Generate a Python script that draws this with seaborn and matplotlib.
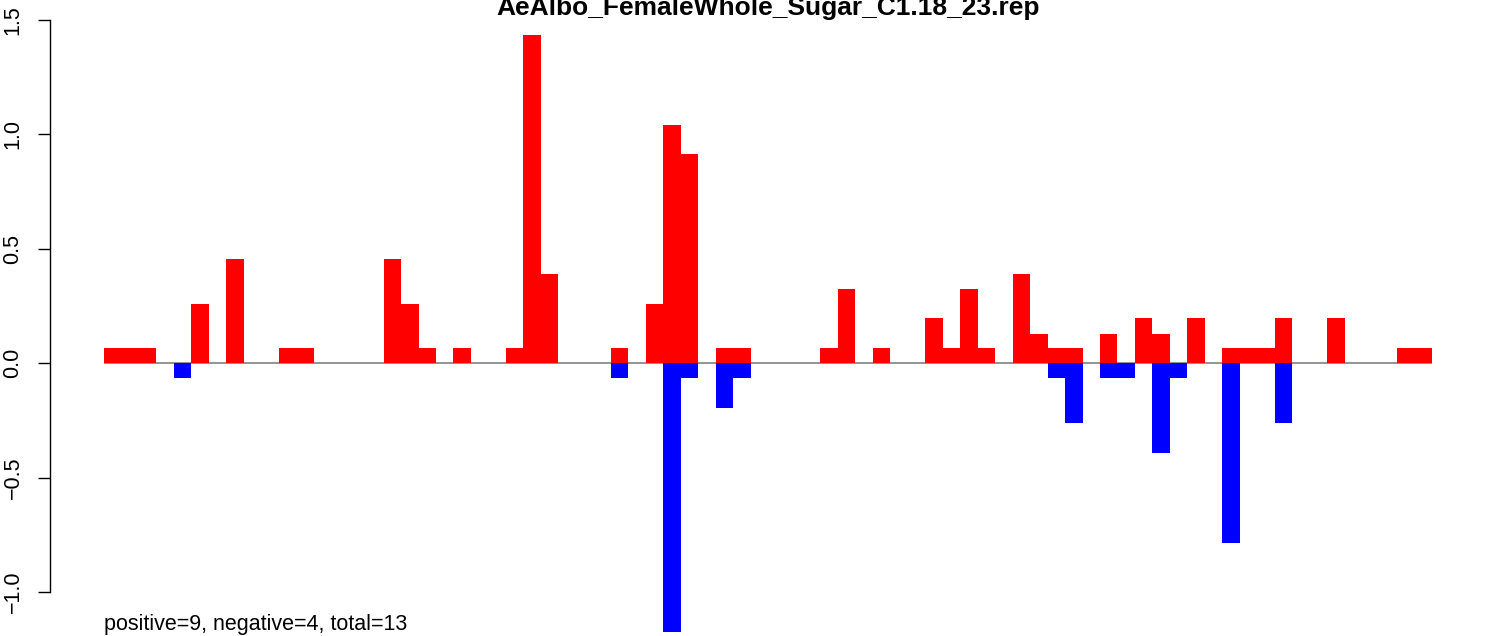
import numpy as np
import pandas as pd
import matplotlib
matplotlib.use("Agg")
import matplotlib.pyplot as plt
import seaborn as sns

# bar heights (76 positions, units of ~0.0652)
positive = [0.065, 0.065, 0.065, 0, 0, 0.261, 0, 0.457, 0, 0,
            0.065, 0.065, 0, 0, 0, 0, 0.457, 0.261, 0.065, 0,
            0.065, 0, 0, 0.065, 1.435, 0.391, 0, 0, 0, 0.065,
            0, 0.261, 1.043, 0.913, 0, 0.065, 0.065, 0, 0, 0,
            0, 0.065, 0.326, 0, 0.065, 0, 0, 0.196, 0.065, 0.326,
            0.065, 0, 0.391, 0.130, 0.065, 0.065, 0, 0.130, 0, 0.196,
            0.130, 0, 0.196, 0, 0.065, 0.065, 0.065, 0.196, 0, 0,
            0.196, 0, 0, 0, 0.065, 0.065]
negative = [0, 0, 0, 0, -0.065, 0, 0, 0, 0, 0,
            0, 0, 0, 0, 0, 0, 0, 0, 0, 0,
            0, 0, 0, 0, 0, 0, 0, 0, 0, -0.065,
            0, 0, -1.174, -0.065, 0, -0.196, -0.065, 0, 0, 0,
            0, 0, 0, 0, 0, 0, 0, 0, 0, 0,
            0, 0, 0, 0, -0.065, -0.261, 0, -0.065, -0.065, 0,
            -0.391, -0.065, 0, 0, -0.783, 0, 0, -0.261, 0, 0,
            0, 0, 0, 0, 0, 0]
title = "AeAlbo_FemaleWhole_Sugar_C1.18_23.rep"
note = "positive=9, negative=4, total=13"
yticks = [-1.0, -0.5, 0.0, 0.5, 1.0, 1.5]

pos = np.arange(len(positive))
df = pd.DataFrame({"pos": pos, "positive": positive, "negative": negative})

sns.set_style("white")
plt.rcParams["font.family"] = ["Liberation Sans", "DejaVu Sans"]
plt.rcParams["text.color"] = "black"
plt.rcParams["ytick.color"] = "black"

W, H = 1506, 636
fig = plt.figure(figsize=(W / 100, H / 100), dpi=100)
ax = fig.add_axes([50 / W, 0, (1486 - 50) / W, 1])

sns.barplot(data=df, x="pos", y="positive", color="#ff0000", width=1,
            saturation=1, linewidth=0, ax=ax)
sns.barplot(data=df, x="pos", y="negative", color="#0000ff", width=1,
            saturation=1, linewidth=0, ax=ax)

ax.hlines(0, -0.5, len(positive) - 0.5, color="#808080", lw=1.2, zorder=0)

bw = (1432 - 104) / len(positive)
ax.set_xlim(-0.5 - (104 - 50) / bw, len(positive) - 0.5 + (1486 - 1432) / bw)
scale = 228.9
ax.set_ylim(-(H - 363.3) / scale, 363.3 / scale)

for s in ["top", "right", "bottom"]:
    ax.spines[s].set_visible(False)
ax.spines["left"].set_bounds(-1.0, 1.5)
ax.spines["left"].set_linewidth(1.0)
ax.spines["left"].set_color("black")
ax.set_xticks([])
ax.set_yticks(yticks)
ax.set_yticklabels([f"{v:.1f}".replace("-", "\u2212") for v in yticks],
                   rotation=90, va="center", fontsize=15.5, color="black")
ax.tick_params(axis="y", left=True, length=9, width=1.0, pad=10,
               color="black", labelcolor="black")
ax.set_xlabel("")
ax.set_ylabel("")

fig.text(768 / W, 1 - 15 / H, title, ha="center", va="baseline",
         fontsize=19, fontweight="bold", color="black")
ax.text(-0.5, -1.188, note, ha="left", va="bottom", fontsize=15.5,
        color="black")

fig.savefig("out.png", dpi=100)
